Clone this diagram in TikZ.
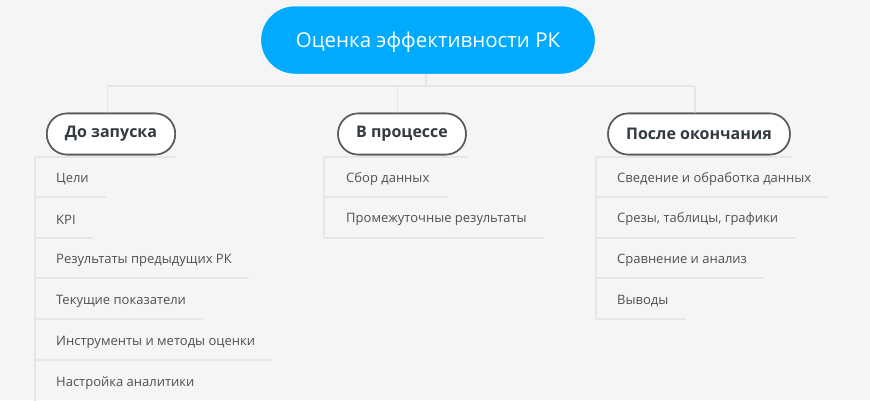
\documentclass[tikz,border=0pt]{standalone}
\usepackage{fontspec}
\setmainfont{Open Sans}
\usetikzlibrary{calc,shapes.misc}
\definecolor{bgc}{HTML}{F5F5F5}
\definecolor{linec}{HTML}{E6E6E6}
\definecolor{rootc}{HTML}{00AAFF}
\definecolor{bordc}{HTML}{5A5A5A}
\definecolor{btext}{HTML}{333B42}
\definecolor{itext}{HTML}{505050}
\tikzset{
  rootbox/.style={rounded rectangle, fill=rootc, text=white, minimum width=340pt, minimum height=67pt,
    font=\fontsize{20.5}{24}\selectfont},
  branchbox/.style={draw=bordc, line width=1.6pt, fill=white, text=btext, rounded corners=20pt,
    minimum height=41pt, inner xsep=18pt, font=\fontsize{16}{19}\selectfont\bfseries},
  itembox/.style={anchor=west, minimum height=36pt, inner xsep=20pt, inner ysep=0pt, text=itext,
    font=\fontsize{13}{16}\selectfont},
  conn/.style={draw=linec, line width=1.8pt},
}
\begin{document}
\begin{tikzpicture}[x=1pt,y=-1pt]
\fill[bgc] (0,0) rectangle (870,400);
\useasboundingbox (0,0) rectangle (870,400);
\begin{scope}
\clip (0,0) rectangle (870,400);
% root
\node[rootbox] (root) at (428,40) {};
\node[text=white, font=\fontsize{20.5}{24}\selectfont] (roottext) at (428,42) {Оценка эффективности РК};
\coordinate (hub) at (426,86);
% branches
\node[branchbox] (b1) at (111,134) {До запуска};
\node[branchbox] (b2) at (402,134) {В процессе};
\node[branchbox] (b3) at (699,134) {После окончания};
\coordinate (h1) at (107.5,86);
\coordinate (h2) at (397.5,86);
\coordinate (h3) at (695,86);
% items left
\node[itembox] (l1) at (36,179) {Цели};
\node[itembox] (l2) at (36,219.5) {KPI};
\node[itembox] (l3) at (36,260) {Результаты предыдущих РК};
\node[itembox] (l4) at (36,301) {Текущие показатели};
\node[itembox] (l5) at (36,342) {Инструменты и методы оценки};
\node[itembox] (l6) at (36,383) {Настройка аналитики};
% items middle
\node[itembox] (m1) at (326,179) {Сбор данных};
\node[itembox] (m2) at (326,219.5) {Промежуточные результаты};
% items right
\node[itembox] (r1) at (597,179) {Сведение и обработка данных};
\node[itembox] (r2) at (597,219.5) {Срезы, таблицы, графики};
\node[itembox] (r3) at (597,260) {Сравнение и анализ};
\node[itembox] (r4) at (597,301) {Выводы};
\coordinate (t1) at (35,157);
\coordinate (t2) at (324,157);
\coordinate (t3) at (596,157);
% connectors
\draw[conn] (root.south -| hub) -- (hub);
\draw[conn] (h1) -- (h3);
\draw[conn] (h1) -- (h1 |- b1.north);
\draw[conn] (h2) -- (h2 |- b2.north);
\draw[conn] (h3) -- (h3 |- b3.north);
% list frames
\draw[conn] (t1) -- (b1.south east |- t1);
\draw[conn] (t1) -- ($(l6.south west)+(-1,8)$);
\draw[conn] (t2) -- (b2.south east |- t2);
\draw[conn] (t2) -- ($(t2 |- m2.south)+(0,-0.5)$);
\draw[conn] (t3) -- (b3.south east |- t3);
\draw[conn] (t3) -- ($(t3 |- r4.south)+(0,-0.5)$);
\foreach \n in {l1,l2,l3,l4,l5} {\draw[conn] (t1 |- \n.south) -- ($(\n.south east)+(-3,0)$);}
\foreach \n in {m1,m2} {\draw[conn] (t2 |- \n.south) -- ($(\n.south east)+(-3,0)$);}
\foreach \n in {r1,r2,r3,r4} {\draw[conn] (t3 |- \n.south) -- ($(\n.south east)+(-3,0)$);}
% nodes on top
\node[rootbox] at (root) {};
\node[text=white, font=\fontsize{20.5}{24}\selectfont] at (roottext) {Оценка эффективности РК};
\node[branchbox] at (b1) {До запуска};
\node[branchbox] at (b2) {В процессе};
\node[branchbox] at (b3) {После окончания};
\end{scope}
\end{tikzpicture}
\end{document}
